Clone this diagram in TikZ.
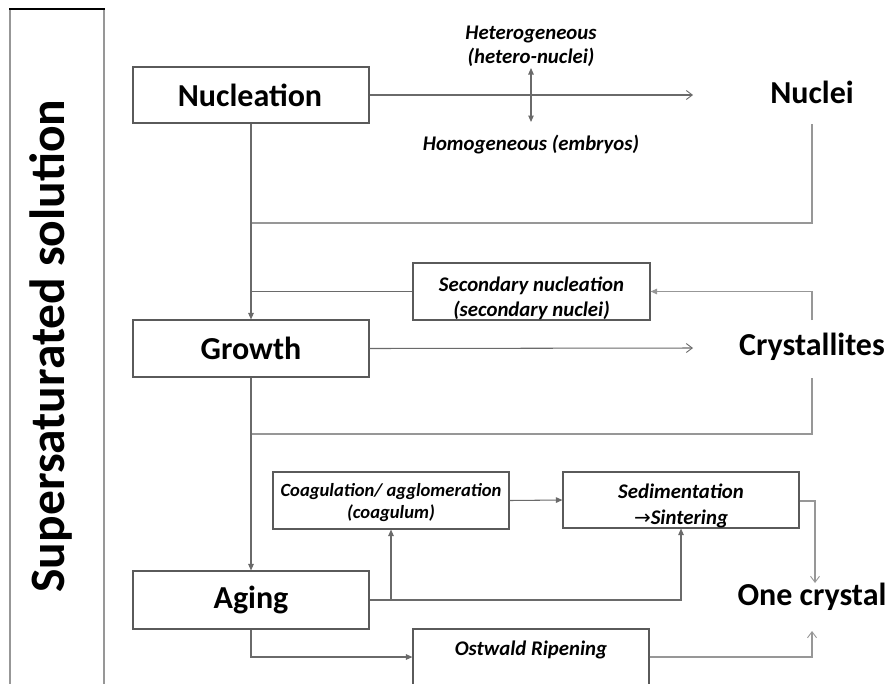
\documentclass[tikz,border=0pt]{standalone}
\usepackage{fontspec}
\setmainfont{Carlito}
\newfontfamily\arrowfont{DejaVu Sans}
\usetikzlibrary{arrows.meta}
\definecolor{boxgray}{HTML}{5A5A5A}
\definecolor{linegray}{HTML}{6A6A6A}
\definecolor{lightline}{HTML}{979797}
\begin{document}
\begin{tikzpicture}[x=1pt,y=-1pt,
  box/.style={draw=boxgray, line width=1.1pt, minimum width=236pt, minimum height=56pt, inner sep=0pt},
  bigtxt/.style={font=\fontsize{32}{38}\selectfont\bfseries, inner sep=0pt},
  smalltxt/.style={font=\fontsize{20.8}{24}\selectfont\bfseries\itshape, align=center, inner sep=0pt},
  conn/.style={draw=linegray, line width=1.05pt},
  lconn/.style={draw=lightline, line width=1.05pt},
  filled/.style={-{Triangle[length=6.5pt,width=5.5pt]}},
  openarr/.style={-{Straight Barb[length=6pt,width=9pt,line width=0.9pt]}}
]
\useasboundingbox (0,0) rectangle (890,683);

% left bar
\node[draw=lightline, line width=1.2pt, minimum width=94pt, minimum height=720pt, inner sep=0pt, anchor=north] (bar) at (57,9) {};
\draw[black, line width=1.4pt] (bar.north west) -- (bar.north east);
\node[rotate=90, anchor=base, font=\fontsize{49.5}{58}\selectfont\bfseries, inner sep=0pt] (bartxt) at (64,346) {Supersaturated solution};

% main boxes
\node[box] (nuc) at (251,95) {};
\node[bigtxt] (nuct) at (250,95) {Nucleation};
\node[box, minimum height=57pt] (gro) at (251,348.5) {};
\node[bigtxt] (grot) at (251,348) {Growth};
\node[box, minimum height=58pt] (age) at (251,600) {};
\node[bigtxt] (aget) at (251,600) {Aging};

% right labels
\node[bigtxt] (nuclei) at (812,92) {Nuclei};
\node[bigtxt] (crys) at (812,347) {Crystallites};
\node[bigtxt] (one) at (812,597) {One crystal};

% italic labels
\node[smalltxt] (het) at (531,46) {Heterogeneous\\(hetero-nuclei)};
\node[smalltxt] (hom) at (531,145) {Homogeneous (embryos)};

% secondary boxes
\node[box, minimum width=237pt, minimum height=57pt] (sec) at (531.5,291.5) {};
\node[smalltxt, font=\fontsize{20.8}{25}\selectfont\bfseries\itshape] (sect) at (531.5,298) {Secondary nucleation\\(secondary nuclei)};
\node[box, minimum height=57pt] (coag) at (391,500.5) {};
\node[smalltxt, font=\fontsize{18.6}{22}\selectfont\bfseries\itshape] (coagt) at (391,503) {Coagulation/ agglomeration\\(coagulum)};
\node[box] (sed) at (681,500) {};
\node[smalltxt, font=\fontsize{20.8}{26}\selectfont\bfseries\itshape] (sedt) at (681,506) {Sedimentation\\{\arrowfont\mdseries\upshape\fontsize{20}{26}\selectfont →}Sintering};
\node[box] (ost) at (531,657) {};
\node[smalltxt] (ostt) at (531,650) {Ostwald Ripening};

% free coordinates
\coordinate (nucEnd) at (693,95);
\coordinate (hetB) at (531,68);
\coordinate (homT) at (531,122);
\coordinate (nucDown) at (812,124);
\coordinate (joinA) at (252,223);
\coordinate (crysUp) at (812,320);
\coordinate (groEnd) at (693,348);
\coordinate (crysDown) at (812,378);
\coordinate (joinC) at (252,434);
\coordinate (sedOut) at (815,501);
\coordinate (oneTop) at (815,583);
\coordinate (oneBot) at (812,631);

% connectors
\draw[conn, openarr] (nuc.east) -- (nucEnd);
\draw[conn, {Triangle[length=6.5pt,width=5.5pt]}-{Triangle[length=6.5pt,width=5.5pt]}] (hetB) -- (homT);
\draw[lconn] (nucDown) |- (joinA);
\draw[conn, filled] (nuc.south) -- (gro.north);
\draw[conn] (sec.west) -- (sec.west -| nuc.south);
\draw[lconn, filled] (crysUp) |- (sec.east);
\draw[conn, openarr] (gro.east) -- (groEnd);
\draw[lconn] (crysDown) |- (joinC);
\draw[conn, filled] (gro.south) -- (age.north);
\draw[conn, filled] (age.east) -| (sed.south);
\draw[conn, filled] (coag.south |- age.east) -- (coag.south);
\draw[conn, filled] (coag.east) -- (sed.west);
\draw[lconn, openarr] (sed.east |- sedOut) -| (oneTop);
\draw[conn, filled] (age.south) |- (ost.west);
\draw[lconn, openarr] (ost.east) -| (oneBot);
\end{tikzpicture}
\end{document}
